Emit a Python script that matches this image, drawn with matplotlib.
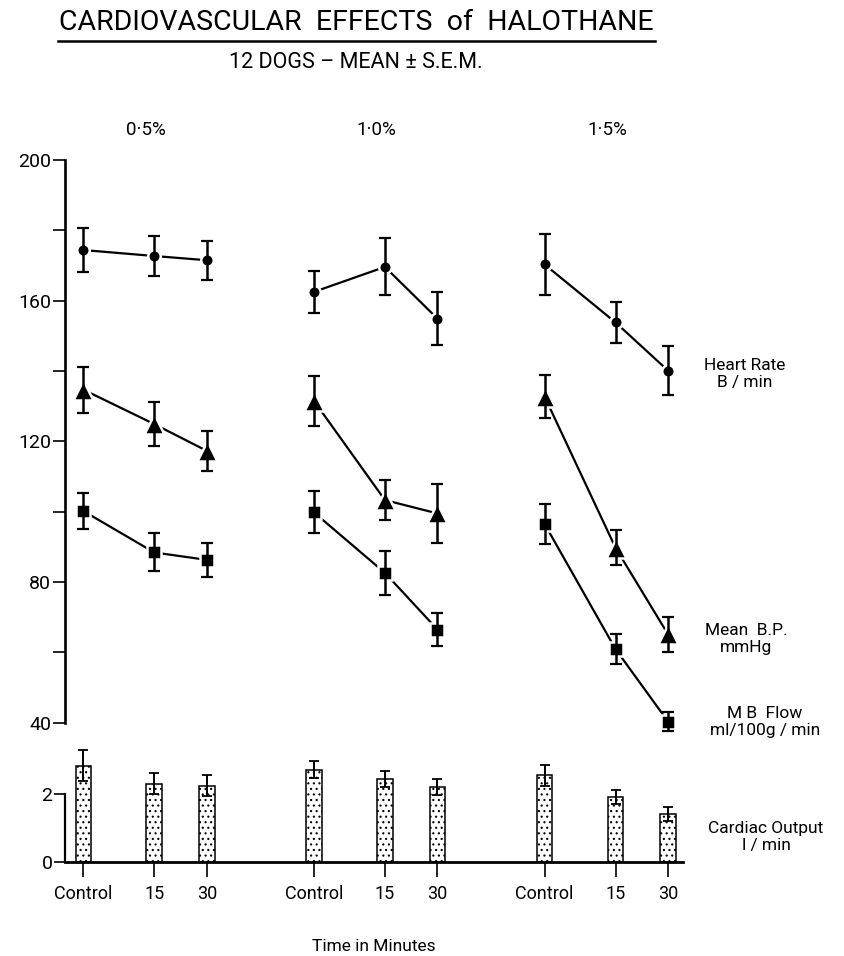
import matplotlib
matplotlib.use("Agg")
import matplotlib.pyplot as plt
from matplotlib.lines import Line2D

plt.rcParams['font.family'] = ['Roboto', 'DejaVu Sans']
plt.rcParams['hatch.linewidth'] = 0.8

# three halothane doses, each sampled at control / 15 / 30 minutes
doses = ["0\u00b75%", "1\u00b70%", "1\u00b75%"]
times = ["Control", "15", "30"]

hr_mean = [174.4, 172.7, 171.5, 162.5, 169.6, 154.9, 170.3, 153.8, 140.1]
hr_sem = [6.2, 5.6, 5.5, 5.9, 8.1, 7.5, 8.7, 5.8, 6.9]
bp_mean = [134.7, 124.9, 117.3, 131.5, 103.3, 99.5, 132.7, 89.7, 65.1]
bp_sem = [6.5, 6.2, 5.6, 7.0, 5.8, 8.5, 6.2, 5.0, 5.0]
flow_mean = [100.2, 88.4, 86.3, 99.8, 82.6, 66.5, 96.5, 60.9, 40.3]
flow_sem = [5.0, 5.4, 4.8, 6.0, 6.2, 4.6, 5.7, 4.2, 2.8]
co_mean = [2.85, 2.31, 2.26, 2.73, 2.46, 2.21, 2.56, 1.93, 1.41]
co_sem = [0.47, 0.31, 0.30, 0.26, 0.23, 0.23, 0.31, 0.21, 0.20]

# x layout: offsets within a dose group, and spacing between groups
within = [0, 1.0, 1.74]
gap = 3.25
xs = [g * gap + w for g in range(len(doses)) for w in within]

W, H = 845, 956
fig = plt.figure(figsize=(W / 100, H / 100), dpi=100)
fig.patch.set_facecolor("white")

def px(x0, y0, x1, y1):
    # pixel box (top-left origin) -> figure fraction rect
    return [x0 / W, 1 - y1 / H, (x1 - x0) / W, (y1 - y0) / H]

xlim = (-0.258, 8.45)

ax = fig.add_axes(px(65, 160, 683, 722.7))
ax.set_xlim(*xlim)
ax.set_ylim(40, 200)
for s in ["top", "right", "bottom"]:
    ax.spines[s].set_visible(False)
ax.spines["left"].set_linewidth(1.9)
ax.set_xticks([])
ax.set_yticks([40, 80, 120, 160, 200])
ax.set_yticks([60, 100, 140, 180], minor=True)
ax.tick_params(axis="y", which="both", direction="out", length=9, width=1.2,
               labelsize=14, pad=1)

series = [
    (hr_mean, hr_sem, "o", 9),
    (bp_mean, bp_sem, "^", 15),
    (flow_mean, flow_sem, "s", 10.5),
]
for mean, sem, mk, ms in series:
    for g in range(len(doses)):
        sl = slice(g * 3, g * 3 + 3)
        gx, gy, ge = xs[sl], mean[sl], sem[sl]
        ax.plot(gx, gy, color="black", lw=1.6, zorder=1, clip_on=False)
        ax.plot(gx, gy, linestyle="none", marker=mk, ms=ms, mfc="black",
                mec="white", mew=1.8, zorder=2, clip_on=False)
        eb = ax.errorbar(gx, gy, yerr=ge, fmt="none", ecolor="black",
                         elinewidth=1.8, capsize=4.5, capthick=1.6, zorder=3)
        for art in list(eb.lines[1]) + list(eb.lines[2]):
            art.set_clip_on(False)

# lower panel: cardiac output bars
bx = fig.add_axes(px(65, 747.1, 683, 861.7))
bx.set_xlim(*xlim)
bx.set_ylim(0, 3.4)
bx.bar(xs, co_mean, width=0.22, color="white", edgecolor="black", lw=1.1,
       hatch="...", zorder=2)
bx.errorbar(xs, co_mean, yerr=co_sem, fmt="none", ecolor="black",
            elinewidth=1.4, capsize=3.5, capthick=1.3, zorder=3)
for s in ["top", "right"]:
    bx.spines[s].set_visible(False)
bx.spines["left"].set_bounds(0, 2)
bx.spines["left"].set_linewidth(1.6)
bx.spines["bottom"].set_linewidth(2.0)
bx.set_yticks([0, 2])
bx.tick_params(axis="y", direction="out", length=8, width=1.2, labelsize=14, pad=1)
bx.set_xticks(xs)
bx.set_xticklabels(times * len(doses))
bx.tick_params(axis="x", direction="out", length=11, width=1.2, labelsize=13, pad=6)
bx.set_xlabel("Time in Minutes", fontsize=12.5, labelpad=26)

# headings
fig.text(356 / W, 1 - 23 / H, "CARDIOVASCULAR  EFFECTS  of  HALOTHANE",
         ha="center", va="center", fontsize=20.5)
fig.add_artist(Line2D([58 / W, 655 / W], [1 - 41 / H] * 2, color="black", lw=1.8))
fig.text(356 / W, 1 - 63 / H, "12 DOGS \u2013 MEAN \u00b1 S.E.M.",
         ha="center", va="center", fontsize=15.5)
for g, d in enumerate(doses):
    xd = ax.transData.transform((xs[g * 3 + 1] - 0.12, 0))[0] / (W)
    fig.text(xd, 1 - 130 / H, d, ha="center", va="center", fontsize=13.5)

# right-hand series labels
labels = [
    (745, 374, "Heart Rate\nB / min"),
    (746, 639, "Mean  B.P.\nmmHg"),
    (765, 722, "M B  Flow\nml/100g / min"),
    (766, 837, "Cardiac Output\nl / min"),
]
for lx, ly, t in labels:
    fig.text(lx / W, 1 - ly / H, t, ha="center", va="center", fontsize=12.5,
             linespacing=1.2)

fig.savefig("out.png", dpi=100, facecolor="white")
